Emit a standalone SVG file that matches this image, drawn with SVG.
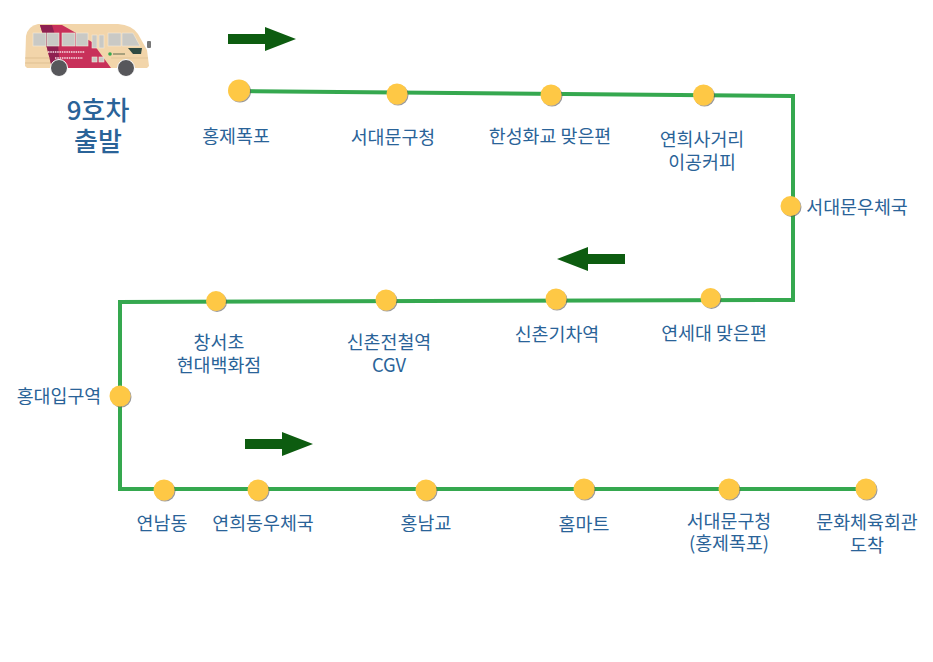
<svg xmlns="http://www.w3.org/2000/svg" width="933" height="662" viewBox="0 0 933 662">
<style>
text{font-family:"Noto Sans CJK KR","Noto Sans",sans-serif;fill:#2a6398;font-size:18.400px;text-anchor:middle}
.title{font-size:26px;font-weight:500}
.route{fill:none;stroke:#35a84f;stroke-width:4}
.dot{fill:#fec845;filter:url(#sh)}
.dir{fill:#0d5c10}
.pane{fill:#c9c9c5;stroke:#f3ead9;stroke-width:.6}
.wheel{fill:#57575b;stroke:#fff;stroke-width:1}
</style>
<defs>
<filter id="sh" x="-30%" y="-30%" width="170%" height="170%"><feDropShadow dx="1" dy="1" stdDeviation="0.7" flood-color="#555" flood-opacity=".6"/></filter>
<symbol id="arrow" overflow="visible"><path class="dir" d="M0 -5H37V-12L68 0L37 12V5H0Z"/></symbol>
</defs>
<rect width="933" height="662" fill="#fff"/>
<g id="connectors">
<path class="route" d="M239 91L793 96V300L120 302V489H866"/>
</g>
<g id="bus">
<!-- body shell -->
<path d="M25 66L26 36Q28 26 38 24H118Q132 25 138 34L147 50L149 66L147 68H27Z" fill="#f2d5aa"/>
<!-- livery -->
<path d="M40 25H62L92 42L111 68H52L47 48Z" fill="#c8305a"/>
<path d="M40 25H52L58 45L60 68H52L47 48Z" fill="#8e2050"/>
<path d="M25 58H50M25 63H50" stroke="#d9b98a" stroke-width=".7" fill="none"/>
<path d="M111 58H148" stroke="#dcc196" stroke-width=".7" fill="none"/>
<!-- windows -->
<rect class="pane" x="33" y="33" width="13" height="13"/>
<rect class="pane" x="47" y="33" width="12" height="13"/>
<rect class="pane" x="62" y="33" width="13" height="13"/>
<rect class="pane" x="76" y="33" width="12" height="13"/>
<rect class="pane" x="92" y="35" width="5" height="13"/>
<rect class="pane" x="99" y="35" width="5" height="13"/>
<rect class="pane" x="92" y="57" width="5" height="5"/>
<rect class="pane" x="99" y="57" width="5" height="5"/>
<rect class="pane" x="108" y="33" width="13" height="13"/>
<path class="pane" d="M122 33H133L140 46H122Z"/>
<path d="M128 48H142L141 54H133Z" fill="#2f4a42"/>
<!-- signage and mirror -->
<path d="M48 52H85M55 58H83" stroke="#f6dfe4" stroke-width="1.500" stroke-dasharray="1.500 .8" fill="none"/>
<circle cx="110" cy="54" r="1.800" fill="#35a84f"/>
<path d="M113 54H125" stroke="#5d6b4f" stroke-width="1"/>
<rect x="147" y="41" width="4" height="7" rx="1" fill="#777"/>
<circle class="wheel" cx="59" cy="68" r="8.500"/>
<circle class="wheel" cx="126" cy="68" r="8.500"/>
</g>
<g id="title"><text class="title" x="98" y="120">9호차</text><text class="title" x="98" y="151">출발</text></g>
<g id="direction-arrows">
<use href="#arrow" x="228" y="39"/>
<use href="#arrow" x="625" y="259" transform="rotate(180 625 259)"/>
<use href="#arrow" x="245" y="444"/>
</g>
<g id="n1"><circle class="dot" cx="239" cy="90.500" r="11"/><text x="236" y="143">홍제폭포</text></g>
<g id="n2"><circle class="dot" cx="397" cy="94" r="10.500"/><text x="393" y="144">서대문구청</text></g>
<g id="n3"><circle class="dot" cx="551" cy="95" r="10.500"/><text x="550" y="143">한성화교 맞은편</text></g>
<g id="n4"><circle class="dot" cx="703.500" cy="95" r="10.500"/><text x="702" y="146">연희사거리</text><text x="702" y="169">이공커피</text></g>
<g id="n5"><circle class="dot" cx="790.500" cy="206" r="10"/><text x="857" y="214">서대문우체국</text></g>
<g id="n6"><circle class="dot" cx="710.500" cy="298" r="10"/><text x="714" y="340">연세대 맞은편</text></g>
<g id="n7"><circle class="dot" cx="556" cy="299" r="10.500"/><text x="557" y="341">신촌기차역</text></g>
<g id="n8"><circle class="dot" cx="386" cy="300" r="10.500"/><text x="389" y="349">신촌전철역</text><text x="389" y="372">CGV</text></g>
<g id="n9"><circle class="dot" cx="216" cy="301" r="10"/><text x="219" y="349">창서초</text><text x="219" y="372">현대백화점</text></g>
<g id="n10"><circle class="dot" cx="120" cy="396" r="10.500"/><text x="59" y="403">홍대입구역</text></g>
<g id="n11"><circle class="dot" cx="164" cy="490" r="10.500"/><text x="162" y="530">연남동</text></g>
<g id="n12"><circle class="dot" cx="258" cy="490" r="10.500"/><text x="263" y="530">연희동우체국</text></g>
<g id="n13"><circle class="dot" cx="426" cy="490" r="10.500"/><text x="426" y="530">홍남교</text></g>
<g id="n14"><circle class="dot" cx="584" cy="489" r="10.500"/><text x="584" y="531">홈마트</text></g>
<g id="n15"><circle class="dot" cx="729" cy="489" r="10.500"/><text x="729" y="528">서대문구청</text><text x="729" y="550">(홍제폭포)</text></g>
<g id="n16"><circle class="dot" cx="866" cy="489" r="10.500"/><text x="867" y="529">문화체육회관</text><text x="867" y="552">도착</text></g>
</svg>
